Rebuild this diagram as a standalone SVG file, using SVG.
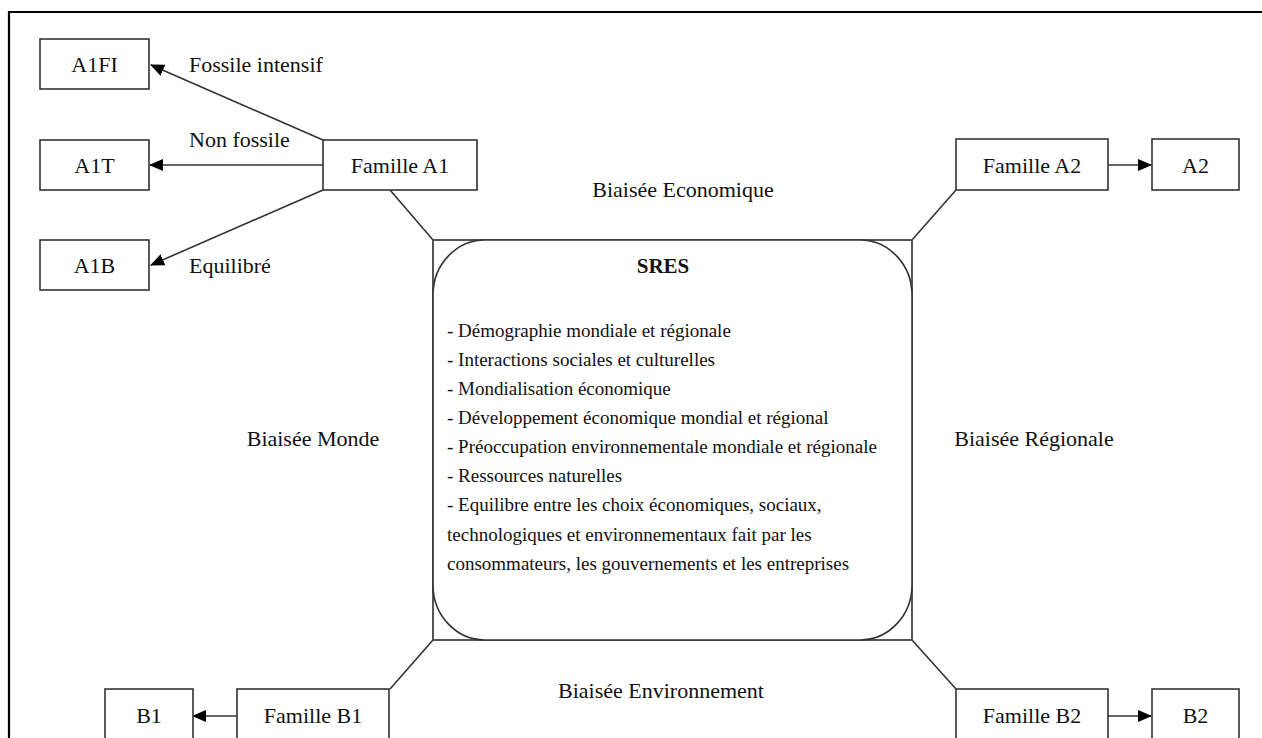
<svg xmlns="http://www.w3.org/2000/svg" width="1262" height="738" viewBox="0 0 1262 738" font-family="'Liberation Serif', 'DejaVu Serif', serif">
<style>
text{font-family:'Liberation Serif','DejaVu Serif',serif;fill:#111;}
.lbl{font-size:22px;}
.box{fill:#fff;stroke:#333;stroke-width:1.6;}
.c{text-anchor:middle;}
.li{font-size:19px;}
.ln{stroke:#333;stroke-width:1.6;fill:none;}
</style>
<defs>
<marker id="ah" markerWidth="14" markerHeight="12" refX="13" refY="6" orient="auto" markerUnits="userSpaceOnUse">
<path d="M0,0 L14,6 L0,12 Z" fill="#000"/>
</marker>
</defs>
<rect width="1262" height="738" fill="#fff"/>
<path d="M9,738 L9,12 L1262,12" fill="none" stroke="#000" stroke-width="2.2"/>
<g id="connectors">
<line class="ln" x1="323" y1="140" x2="151" y2="65" marker-end="url(#ah)"/>
<line class="ln" x1="323" y1="165" x2="150" y2="165" marker-end="url(#ah)"/>
<line class="ln" x1="323" y1="190" x2="151" y2="265" marker-end="url(#ah)"/>
<line class="ln" x1="1108" y1="165" x2="1151" y2="165" marker-end="url(#ah)"/>
<line class="ln" x1="237" y1="716" x2="193" y2="716" marker-end="url(#ah)"/>
<line class="ln" x1="1108" y1="716" x2="1151" y2="716" marker-end="url(#ah)"/>
<line class="ln" x1="390" y1="190" x2="433" y2="240"/>
<line class="ln" x1="956" y1="190" x2="912" y2="240"/>
<line class="ln" x1="390" y1="689" x2="433" y2="640"/>
<line class="ln" x1="956" y1="689" x2="912" y2="640"/>
</g>
<g id="A1FI"><rect class="box" x="40" y="39" width="109" height="50"/><text class="lbl c" x="94.5" y="72">A1FI</text></g>
<g id="A1T"><rect class="box" x="40" y="140" width="109" height="50"/><text class="lbl c" x="94.5" y="173">A1T</text></g>
<g id="A1B"><rect class="box" x="40" y="240" width="109" height="50"/><text class="lbl c" x="94.5" y="273">A1B</text></g>
<g id="FamilleA1"><rect class="box" x="323" y="140" width="154" height="50"/><text class="lbl c" x="400" y="173">Famille A1</text></g>
<g id="FamilleA2"><rect class="box" x="956" y="139" width="152" height="51"/><text class="lbl c" x="1032" y="173">Famille A2</text></g>
<g id="A2"><rect class="box" x="1152" y="139" width="87" height="51"/><text class="lbl c" x="1195.5" y="173">A2</text></g>
<g id="FamilleB1"><rect class="box" x="237" y="689" width="152" height="60"/><text class="lbl c" x="313" y="723">Famille B1</text></g>
<g id="B1"><rect class="box" x="105" y="689" width="88" height="60"/><text class="lbl c" x="149" y="723">B1</text></g>
<g id="FamilleB2"><rect class="box" x="956" y="689" width="152" height="60"/><text class="lbl c" x="1032" y="723">Famille B2</text></g>
<g id="B2"><rect class="box" x="1152" y="689" width="87" height="60"/><text class="lbl c" x="1195.5" y="723">B2</text></g>
<g id="labels">
<text class="lbl" x="189" y="72">Fossile intensif</text>
<text class="lbl" x="189" y="147">Non fossile</text>
<text class="lbl" x="189" y="273">Equilibré</text>
<text class="lbl c" x="683" y="197">Biaisée Economique</text>
<text class="lbl c" x="313" y="446">Biaisée Monde</text>
<text class="lbl c" x="1034" y="446">Biaisée Régionale</text>
<text class="lbl c" x="661" y="698">Biaisée Environnement</text>
</g>
<g id="SRES">
<rect x="433" y="240" width="479" height="400" fill="#fff" stroke="#444" stroke-width="1.8"/>
<rect x="433" y="240" width="479" height="400" rx="52" ry="55" fill="#fff" stroke="#333" stroke-width="1.6"/>
<text class="c" x="663" y="273" font-size="21" font-weight="bold">SRES</text>
<text class="li" x="447" y="337">- Démographie mondiale et régionale</text>
<text class="li" x="447" y="366">- Interactions sociales et culturelles</text>
<text class="li" x="447" y="395">- Mondialisation économique</text>
<text class="li" x="447" y="424">- Développement économique mondial et régional</text>
<text class="li" x="447" y="453">- Préoccupation environnementale mondiale et régionale</text>
<text class="li" x="447" y="482">- Ressources naturelles</text>
<text class="li" x="447" y="511">- Equilibre entre les choix économiques, sociaux,</text>
<text class="li" x="447" y="541">technologiques et environnementaux fait par les</text>
<text class="li" x="447" y="570">consommateurs, les gouvernements et les entreprises</text>
</g>
</svg>
